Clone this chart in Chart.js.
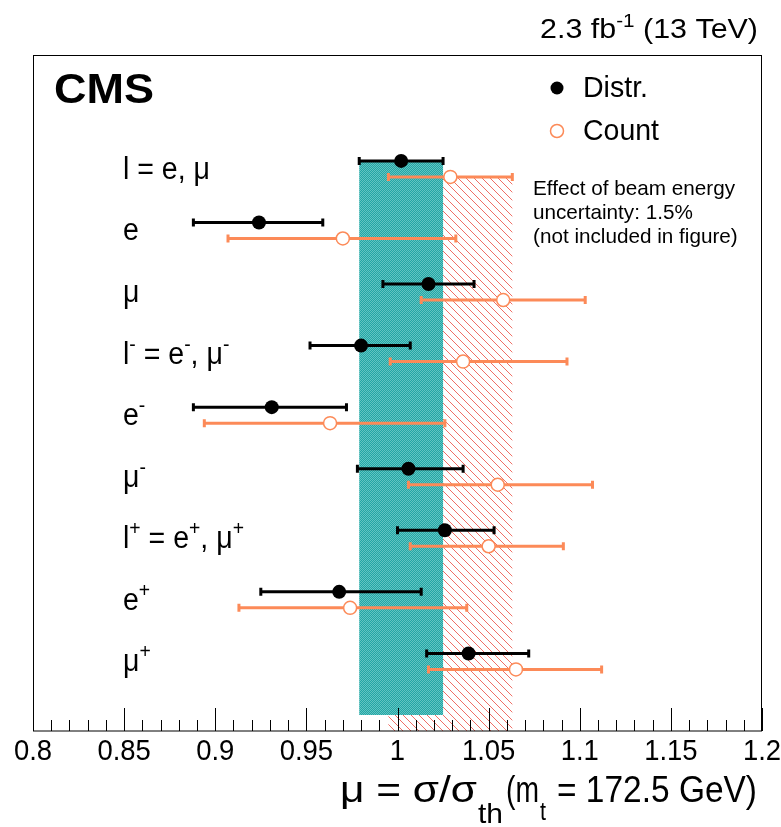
<!DOCTYPE html>
<html>
<head>
<meta charset="utf-8">
<script src="https://cdn.jsdelivr.net/npm/chart.js@4.4.1/dist/chart.umd.min.js"></script>
<style>
  html, body { margin: 0; padding: 0; background: #ffffff; }
  #wrap { width: 781px; height: 827px; }
</style>
</head>
<body>
<div id="wrap"><canvas id="c" width="781" height="827"></canvas></div>
<script>
// Signal strength per lepton channel, two extraction methods
const rowLabels = ['l = e, μ', 'e', 'μ', 'l^{-} = e^{-}, μ^{-}', 'e^{-}', 'μ^{-}', 'l^{+} = e^{+}, μ^{+}', 'e^{+}', 'μ^{+}'];

const distrMu = [1.002, 0.924, 1.017, 0.980, 0.931, 1.006, 1.026, 0.968, 1.039];
const distrLo = [0.979, 0.888, 0.992, 0.952, 0.888, 0.978, 1.000, 0.925, 1.016];
const distrHi = [1.025, 0.959, 1.042, 1.007, 0.972, 1.036, 1.053, 1.013, 1.072];

const countMu = [1.029, 0.970, 1.058, 1.036, 0.963, 1.055, 1.050, 0.974, 1.065];
const countLo = [0.995, 0.907, 1.013, 0.996, 0.894, 1.006, 1.007, 0.913, 1.017];
const countHi = [1.063, 1.032, 1.103, 1.093, 1.026, 1.107, 1.091, 1.038, 1.112];

const xTickValues = [0.8, 0.85, 0.9, 0.95, 1.0, 1.05, 1.1, 1.15, 1.2];
const xTickLabels = ['0.8', '0.85', '0.9', '0.95', '1', '1.05', '1.1', '1.15', '1.2'];

const ORANGE = '#fc8a58';
const HATCH = '#ef6f66';
const FONT = '"Liberation Sans", Arial, Helvetica, sans-serif';
const ROW_SHIFT = 0.13;   // vertical offset of the two methods within a row

const distrPts = distrMu.map((v, i) => ({ x: v, y: i - ROW_SHIFT }));
const countPts = countMu.map((v, i) => ({ x: v, y: i + ROW_SHIFT }));

function hatchPattern(ctx) {
  const p = document.createElement('canvas');
  p.width = 8; p.height = 8;
  const g = p.getContext('2d');
  g.strokeStyle = HATCH;
  g.lineWidth = 1;
  g.beginPath();
  for (let k = -8; k <= 16; k += 8) {
    g.moveTo(k, 0); g.lineTo(k + 8, 8);
  }
  g.stroke();
  return ctx.createPattern(p, 'repeat');
}

function tealPattern(ctx) {
  const p = document.createElement('canvas');
  p.width = 2; p.height = 2;
  const g = p.getContext('2d');
  g.fillStyle = '#23a6a5'; g.fillRect(0, 0, 2, 2);
  g.fillStyle = '#62c4c2'; g.fillRect(0, 0, 1, 1); g.fillRect(1, 1, 1, 1);
  return ctx.createPattern(p, 'repeat');
}

// Split "a^{b}c_{d}" into normal / superscript / subscript runs
function parseRich(str) {
  const parts = [];
  const re = /([\^_])\{([^}]*)\}/g;
  let last = 0, m;
  while ((m = re.exec(str)) !== null) {
    if (m.index > last) parts.push({ t: str.slice(last, m.index), k: 'n' });
    parts.push({ t: m[2], k: m[1] === '^' ? 'sup' : 'sub' });
    last = re.lastIndex;
  }
  if (last < str.length) parts.push({ t: str.slice(last), k: 'n' });
  return parts;
}

function runStyle(p, size) {
  if (p.k === 'sup') return { s: size * 0.68, dy: -size * 0.42 };
  if (p.k === 'sub') return { s: size * 0.68, dy: size * 0.3 };
  return { s: size, dy: 0 };
}

function richWidth(ctx, str, size, weight = '') {
  let w = 0;
  parseRich(str).forEach(p => {
    const st = runStyle(p, size);
    ctx.font = `${weight}${st.s}px ${FONT}`;
    w += ctx.measureText(p.t).width;
  });
  return w;
}

// Draw rich text at (x, baseline) with a horizontal scale factor
function richText(ctx, str, x, y, size, sx = 1, weight = '') {
  ctx.save();
  ctx.translate(x, y);
  ctx.scale(sx, 1);
  ctx.textBaseline = 'alphabetic';
  ctx.textAlign = 'left';
  let cx = 0;
  parseRich(str).forEach(p => {
    const st = runStyle(p, size);
    ctx.font = `${weight}${st.s}px ${FONT}`;
    ctx.fillText(p.t, cx, st.dy);
    cx += ctx.measureText(p.t).width;
  });
  ctx.restore();
  return cx * sx;
}

// Plain text stretched to a given width, left edge at x
function fitText(ctx, str, x, y, size, width, weight = '') {
  ctx.font = `${weight}${size}px ${FONT}`;
  const w = ctx.measureText(str).width;
  ctx.save();
  ctx.translate(x, y);
  ctx.scale(width / w, 1);
  ctx.textAlign = 'left';
  ctx.textBaseline = 'alphabetic';
  ctx.fillText(str, 0, 0);
  ctx.restore();
}

const plotDecor = {
  id: 'plotDecor',
  beforeDatasetsDraw(chart) {
    const { ctx, chartArea: a, scales: { x, y } } = chart;
    const n = rowLabels.length;
    ctx.save();
    ctx.beginPath();
    ctx.rect(a.left, a.top, a.right - a.left, a.bottom - a.top);
    ctx.clip();
    // Band from the inclusive count result, hatched
    ctx.fillStyle = hatchPattern(ctx);
    const hx0 = x.getPixelForValue(countLo[0]), hx1 = x.getPixelForValue(countHi[0]);
    const hy0 = y.getPixelForValue(ROW_SHIFT), hy1 = y.getPixelForValue(n + ROW_SHIFT);
    ctx.fillRect(hx0, hy0, hx1 - hx0, hy1 - hy0);
    // Band from the inclusive distribution result, filled
    ctx.fillStyle = tealPattern(ctx);
    const tx0 = x.getPixelForValue(distrLo[0]), tx1 = x.getPixelForValue(distrHi[0]);
    const ty0 = y.getPixelForValue(-ROW_SHIFT), ty1 = y.getPixelForValue(n - ROW_SHIFT);
    ctx.fillRect(tx0, ty0, tx1 - tx0, ty1 - ty0);
    ctx.restore();

    // Horizontal error bars with end caps
    const bars = (lo, hi, pts, color) => {
      ctx.save();
      ctx.strokeStyle = color;
      ctx.lineWidth = 3;
      pts.forEach((p, i) => {
        const py = y.getPixelForValue(p.y);
        const l = x.getPixelForValue(lo[i]), r = x.getPixelForValue(hi[i]);
        ctx.beginPath(); ctx.moveTo(l, py); ctx.lineTo(r, py); ctx.stroke();
        ctx.beginPath();
        ctx.moveTo(l, py - 4); ctx.lineTo(l, py + 4);
        ctx.moveTo(r, py - 4); ctx.lineTo(r, py + 4);
        ctx.stroke();
      });
      ctx.restore();
    };
    bars(countLo, countHi, countPts, ORANGE);
    bars(distrLo, distrHi, distrPts, '#000');
  },
  afterDraw(chart) {
    const { ctx, chartArea: a, scales: { x, y } } = chart;
    ctx.save();
    // Frame
    ctx.strokeStyle = '#000';
    ctx.lineWidth = 1;
    ctx.strokeRect(a.left + 0.5, a.top + 0.5, a.right - a.left - 1, a.bottom - a.top - 0.5);
    // Inward ticks on the x axis
    ctx.beginPath();
    for (let i = 0; i < xTickValues.length; i++) {
      const px = Math.round(x.getPixelForValue(xTickValues[i])) + 0.5;
      ctx.moveTo(px, a.bottom); ctx.lineTo(px, a.bottom - 23);
      if (i < xTickValues.length - 1) {
        const step = (xTickValues[i + 1] - xTickValues[i]) / 5;
        for (let k = 1; k < 5; k++) {
          const mx = Math.round(x.getPixelForValue(xTickValues[i] + k * step)) + 0.5;
          ctx.moveTo(mx, a.bottom); ctx.lineTo(mx, a.bottom - 11);
        }
      }
    }
    ctx.stroke();

    ctx.fillStyle = '#000';
    // Tick labels, slightly condensed
    const TSX = 0.93, TSIZE = 29.5;
    xTickValues.forEach((v, i) => {
      ctx.font = `${TSIZE}px ${FONT}`;
      const w = ctx.measureText(xTickLabels[i]).width * TSX;
      richText(ctx, xTickLabels[i], x.getPixelForValue(v) - w / 2, a.bottom + 29, TSIZE, TSX);
    });

    // Row labels
    rowLabels.forEach((lab, i) => {
      richText(ctx, lab, 123, y.getPixelForValue(i) + 10, 31, 0.92);
    });

    // CMS mark
    fitText(ctx, 'CMS', 54, 103, 43, 100, 'bold ');

    // Luminosity label, right aligned
    const lumi = '2.3 fb^{-1} (13 TeV)';
    const lw = richWidth(ctx, lumi, 27);
    richText(ctx, lumi, 540, 38, 27, 218 / lw);

    // Legend
    ctx.fillStyle = '#000';
    ctx.beginPath(); ctx.arc(557, 88, 6.5, 0, Math.PI * 2); ctx.fill();
    ctx.fillStyle = '#fff'; ctx.strokeStyle = ORANGE; ctx.lineWidth = 1.5;
    ctx.beginPath(); ctx.arc(557, 131, 6.5, 0, Math.PI * 2); ctx.fill(); ctx.stroke();
    ctx.fillStyle = '#000';
    fitText(ctx, 'Distr.', 583, 97, 30, 65);
    fitText(ctx, 'Count', 583, 140, 30, 76);

    // Note on beam energy
    ctx.font = `20.7px ${FONT}`;
    ctx.textAlign = 'left';
    ctx.fillText('Effect of beam energy', 533, 195);
    ctx.fillText('uncertainty: 1.5%', 533, 219);
    ctx.fillText('(not included in figure)', 533, 243);

    // Axis title
    fitText(ctx, 'μ = σ/σ', 340, 802, 37, 137);
    fitText(ctx, 'th', 478, 823, 28, 25);
    fitText(ctx, '(m', 506, 802, 37, 33);
    fitText(ctx, 't', 540, 820, 26, 6);
    fitText(ctx, '= 172.5 GeV)', 557, 802, 37, 200);
    ctx.restore();
  }
};

new Chart(document.getElementById('c'), {
  type: 'scatter',
  data: {
    datasets: [
      {
        label: 'Count',
        data: countPts,
        pointRadius: 6.5,
        pointHoverRadius: 6.5,
        pointBackgroundColor: '#ffffff',
        pointBorderColor: ORANGE,
        pointBorderWidth: 1.5
      },
      {
        label: 'Distr.',
        data: distrPts,
        pointRadius: 7,
        pointHoverRadius: 7,
        pointBackgroundColor: '#000000',
        pointBorderColor: '#000000',
        pointBorderWidth: 0
      }
    ]
  },
  options: {
    responsive: false,
    animation: false,
    events: [],
    layout: { padding: { left: 33, right: 19, top: 55, bottom: 0 } },
    plugins: { legend: { display: false }, tooltip: { enabled: false } },
    scales: {
      x: {
        type: 'linear',
        min: 0.8,
        max: 1.2,
        afterFit: s => { s.height = 96; s.paddingLeft = 0; s.paddingRight = 0; },
        grid: { display: false, drawTicks: false },
        border: { display: false },
        ticks: { display: false }
      },
      y: {
        type: 'linear',
        reverse: true,
        min: -1.85,
        max: 9.13,
        display: false
      }
    }
  },
  plugins: [plotDecor]
});
</script>
</body>
</html>
